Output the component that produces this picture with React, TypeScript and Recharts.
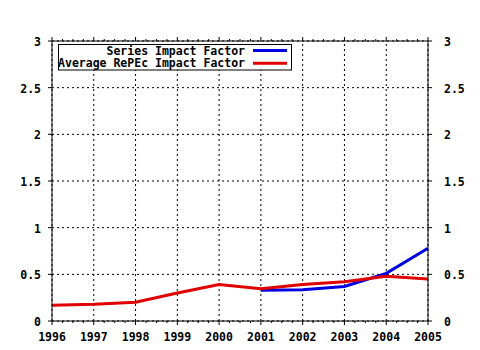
import React from "react";
import { LineChart, Line, XAxis, YAxis, CartesianGrid, ReferenceLine } from "recharts";

const years = [1996, 1997, 1998, 1999, 2000, 2001, 2002, 2003, 2004, 2005];
const seriesImpact = [null, null, null, null, null, 0.33, 0.335, 0.37, 0.51, 0.78];
const avgImpact = [0.17, 0.18, 0.2, 0.3, 0.39, 0.345, 0.39, 0.42, 0.48, 0.45];
const yTicks = [0, 0.5, 1, 1.5, 2, 2.5, 3];
const xTicks = years.flatMap((y) => (y < 2005 ? [y, y + 0.25, y + 0.5, y + 0.75] : [y]));

const data = years.map((year, i) => ({ year, series: seriesImpact[i], avg: avgImpact[i] }));

const FONT = "'DejaVu Sans Mono', monospace";
const txt = { fontFamily: FONT, fontWeight: 700, fontSize: 11.5, fill: "#000" };

function BottomTick({ x, y, payload }: any) {
  const major = Number.isInteger(payload.value);
  return (
    <g>
      <line x1={x} x2={x} y1={y} y2={y + (major ? 4 : 2)} stroke="#000" />
      {major && (
        <text x={x} y={y + 20} textAnchor="middle" style={txt}>
          {payload.value}
        </text>
      )}
    </g>
  );
}

function TopTick({ x, y, payload }: any) {
  const major = Number.isInteger(payload.value);
  return <line x1={x} x2={x} y1={y} y2={y - (major ? 4 : 2)} stroke="#000" />;
}

function LeftTick({ x, y, payload }: any) {
  return (
    <g>
      <line x1={x} x2={x - 4} y1={y} y2={y} stroke="#000" />
      <text x={x - 11} y={y + 5} textAnchor="end" style={txt}>
        {String(payload.value)}
      </text>
    </g>
  );
}

function RightTick({ x, y, payload }: any) {
  return (
    <g>
      <line x1={x} x2={x + 4} y1={y} y2={y} stroke="#000" />
      <text x={x + 16} y={y + 5} textAnchor="start" style={txt}>
        {String(payload.value)}
      </text>
    </g>
  );
}

function Key() {
  return (
    <svg
      width={235}
      height={27}
      style={{ position: "absolute", left: 58, top: 44 }}
    >
      <rect x={0.5} y={0.5} width={233} height={25.5} fill="#fff" stroke="#000" />
      <text x={187} y={11.3} textAnchor="end" style={txt}>Series Impact Factor</text>
      <line x1={195} x2={229} y1={6.5} y2={6.5} stroke="#0000e0" strokeWidth={3} />
      <text x={187} y={23.3} textAnchor="end" style={txt}>Average RePEc Impact Factor</text>
      <line x1={195} x2={229} y1={19.3} y2={19.3} stroke="#e00000" strokeWidth={3} />
    </svg>
  );
}

export default function App() {
  return (
    <div style={{ position: "fixed", left: 0, top: 0, width: 480, height: 350, background: "#fff" }}>
      <LineChart width={480} height={350} data={data} margin={{ top: 0, right: 0, bottom: 0, left: 0 }}>
        <CartesianGrid xAxisId="b" yAxisId="l" vertical={false} stroke="#000" strokeDasharray="2 3" />
        {years.map((y) => (
          <ReferenceLine key={y} xAxisId="b" yAxisId="l" x={y} stroke="#000" strokeDasharray="2 3" />
        ))}
        <XAxis
          xAxisId="b" dataKey="year" type="number" domain={[1996, 2005]} ticks={xTicks} interval={0}
          height={29} tickSize={0} tickMargin={0} tickLine={false} tick={<BottomTick />}
          axisLine={{ stroke: "#000" }} allowDecimals
        />
        <XAxis
          xAxisId="t" orientation="top" dataKey="year" type="number" domain={[1996, 2005]} ticks={xTicks}
          interval={0} height={41} tickSize={0} tickMargin={0} tickLine={false} tick={<TopTick />}
          axisLine={{ stroke: "#000" }}
        />
        <YAxis
          yAxisId="l" domain={[0, 3]} ticks={yTicks} interval={0} width={52} tickSize={0} tickMargin={0}
          tickLine={false} tick={<LeftTick />} axisLine={{ stroke: "#000" }}
        />
        <YAxis
          yAxisId="r" orientation="right" dataKey="avg" type="number" domain={[0, 3]} ticks={yTicks}
          interval={0} width={52} tickSize={0} tickMargin={0} tickLine={false} tick={<RightTick />}
          axisLine={{ stroke: "#000" }}
        />
        <Line
          xAxisId="b" yAxisId="l" type="linear" dataKey="series" stroke="#0000e0" strokeWidth={3}
          dot={false} isAnimationActive={false}
        />
        <Line
          xAxisId="b" yAxisId="l" type="linear" dataKey="avg" stroke="#e00000" strokeWidth={3}
          dot={false} isAnimationActive={false}
        />
        <Line
          xAxisId="t" yAxisId="r" type="linear" dataKey="avg" stroke="none" strokeWidth={0}
          dot={false} activeDot={false} legendType="none" isAnimationActive={false}
        />
      </LineChart>
      <Key />
    </div>
  );
}
